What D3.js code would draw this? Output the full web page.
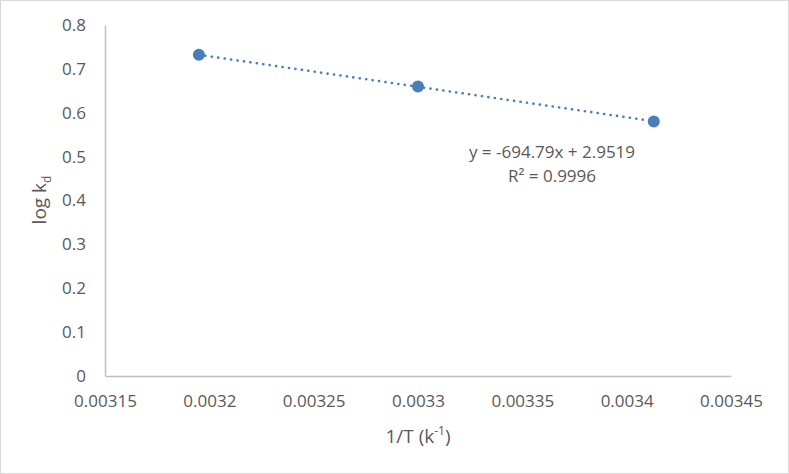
<!DOCTYPE html>
<html>
<head>
<meta charset="utf-8">
<script src="https://cdn.jsdelivr.net/npm/d3@7"></script>
<style>
    body { margin: 0; background: #fff; }
    svg text { font-family: "Open Sans", sans-serif; fill: #595959; }
</style>
</head>
<body>
<div id="chart"></div>
<script>
// Data
var invTemp = [0.003195, 0.0033, 0.003413];   // 1/T
var logKd = [0.732, 0.660, 0.580];
var xTicks = [0.00315, 0.0032, 0.00325, 0.0033, 0.00335, 0.0034, 0.00345];
var yTicks = [0, 0.1, 0.2, 0.3, 0.4, 0.5, 0.6, 0.7, 0.8];
var trendSlope = -694.79;
var trendIntercept = 2.9519;
var trendLabels = ["y = -694.79x + 2.9519", "R² = 0.9996"];

var width = 789, height = 474;
var blue = "#4a7ebb";

var svg = d3.select("#chart").append("svg")
    .attr("width", width)
    .attr("height", height);

// outer border
svg.append("rect")
    .attr("x", 0.5).attr("y", 0.5)
    .attr("width", width - 1).attr("height", height - 1)
    .attr("fill", "#fff")
    .attr("stroke", "#d9d9d9");

var x = d3.scaleLinear().domain([0.00315, 0.00345]).range([105, 731]);
var y = d3.scaleLinear().domain([0, 0.8]).range([376, 25]);

// axes (no tick marks)
var xAxis = svg.append("g")
    .attr("transform", "translate(0," + y(0) + ")")
    .call(d3.axisBottom(x).tickValues(xTicks).tickSize(0).tickPadding(19)
        .tickFormat(function(d) { return String(+d.toFixed(5)); }));
xAxis.select(".domain").attr("stroke", "#bfbfbf").attr("stroke-width", 1.5);
xAxis.selectAll("text").attr("font-size", 17).attr("fill", "#595959");

var yAxis = svg.append("g")
    .attr("transform", "translate(" + x(0.00315) + ",0)")
    .call(d3.axisLeft(y).tickValues(yTicks).tickSize(0).tickPadding(19)
        .tickFormat(function(d) { return String(+d.toFixed(1)); }));
yAxis.select(".domain").attr("stroke", "#bfbfbf").attr("stroke-width", 1.5);
yAxis.selectAll("text").attr("font-size", 17).attr("fill", "#595959");

// trendline from first to last point
var xMin = d3.min(invTemp), xMax = d3.max(invTemp);
svg.append("line")
    .attr("x1", x(xMin)).attr("y1", y(trendSlope * xMin + trendIntercept))
    .attr("x2", x(xMax)).attr("y2", y(trendSlope * xMax + trendIntercept))
    .attr("stroke", blue)
    .attr("stroke-width", 2.6)
    .attr("stroke-linecap", "round")
    .attr("stroke-dasharray", "0.1 6.4");

// markers
svg.selectAll("circle.pt")
    .data(invTemp)
    .join("circle")
    .attr("class", "pt")
    .attr("cx", function(d) { return x(d); })
    .attr("cy", function(d, i) { return y(logKd[i]); })
    .attr("r", 6)
    .attr("fill", blue);

// trendline label
svg.selectAll("text.eq")
    .data(trendLabels)
    .join("text")
    .attr("class", "eq")
    .attr("x", 552)
    .attr("y", function(d, i) { return 158 + i * 24; })
    .attr("text-anchor", "middle")
    .attr("font-size", 17)
    .text(function(d) { return d; });

// axis titles
var xt = svg.append("text")
    .attr("x", 418).attr("y", 443)
    .attr("text-anchor", "middle")
    .attr("font-size", 19);
xt.append("tspan").text("1/T (k");
xt.append("tspan").attr("dy", -8).attr("font-size", 12).text("-1");
xt.append("tspan").attr("dy", 8).text(")");

var yt = svg.append("text")
    .attr("transform", "translate(46,200) rotate(-90)")
    .attr("text-anchor", "middle")
    .attr("font-size", 19);
yt.append("tspan").text("log k");
yt.append("tspan").attr("dy", 5).attr("font-size", 12).text("d");
</script>
</body>
</html>
